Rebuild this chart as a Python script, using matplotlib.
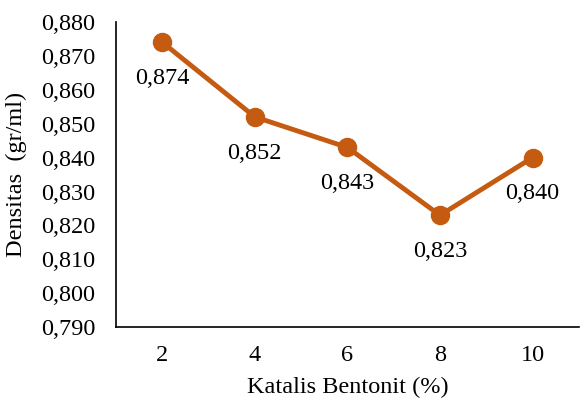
import matplotlib.pyplot as plt
from matplotlib.ticker import FuncFormatter

# bentonite catalyst loading (%) and measured density (gr/ml)
katalis = ["2", "4", "6", "8", "10"]
densitas = [0.874, 0.852, 0.843, 0.823, 0.840]

plt.rcParams['font.family'] = ['Liberation Serif', 'DejaVu Serif']
plt.rcParams['font.size'] = 17.5

fig = plt.figure(figsize=(5.8, 3.99), dpi=100)
ax = fig.add_axes([0.2, 0.18, 0.798, 0.765])

x = range(len(katalis))
ax.plot(x, densitas, color='#C55A11', linewidth=3.5, marker='o', markersize=13,
        solid_capstyle='round', zorder=3)

for xi, yi in zip(x, densitas):
    ax.annotate(f"{yi:.3f}".replace('.', ','), (xi, yi), xytext=(0, -26),
                textcoords='offset points', ha='center', va='center')

ax.set_xlim(-0.5, len(katalis) - 0.5)
ax.set_ylim(0.790, 0.880)
ax.set_xticks(list(x))
ax.set_xticklabels(katalis)
ax.set_yticks([0.790 + 0.01 * i for i in range(10)])
ax.yaxis.set_major_formatter(FuncFormatter(lambda v, p: f"{v:.3f}".replace('.', ',')))
ax.tick_params(axis='x', length=0, pad=13)
ax.tick_params(axis='y', length=0, pad=15)

for s in ['top', 'right']:
    ax.spines[s].set_visible(False)
for s in ['left', 'bottom']:
    ax.spines[s].set_linewidth(1.2)

ax.set_xlabel("Katalis Bentonit (%)", labelpad=8)
ax.set_ylabel("Densitas  (gr/ml)", labelpad=10)

fig.savefig("out.png", dpi=100)
